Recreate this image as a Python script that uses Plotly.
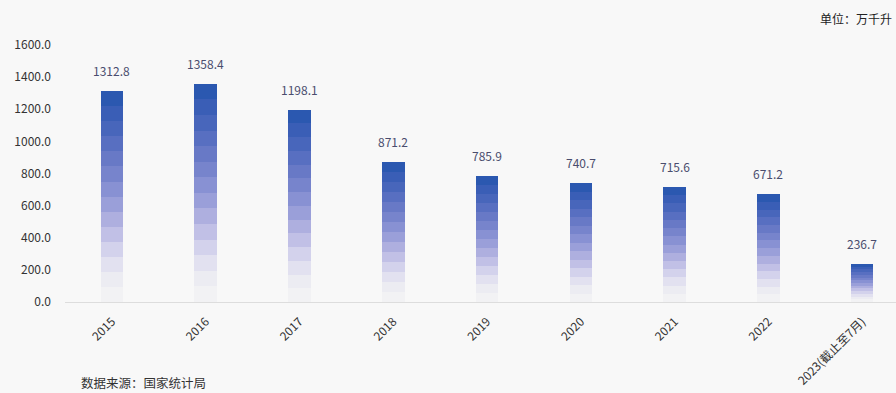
import plotly.graph_objects as go

# Annual output, unit: 万千升
categories = ["2015", "2016", "2017", "2018", "2019", "2020", "2021", "2022", "2023(截止至7月)"]
values = [1312.8, 1358.4, 1198.1, 871.2, 785.9, 740.7, 715.6, 671.2, 236.7]
y_ticks = [0, 200, 400, 600, 800, 1000, 1200, 1400, 1600]

# Banded vertical gradient, bottom band first
band_colors = [
    "#f2f2f4", "#ececf2", "#e2e1f0", "#d3d2ec", "#c1c0e6", "#aeafdf",
    "#9a9fd9", "#8891d3", "#7784cc", "#6879c6", "#586fc1", "#4866bb", "#3a5eb6", "#2b58b0",
]
n_bands = len(band_colors)

FONT = "Noto Sans CJK SC"
fig = go.Figure()

for k, col in enumerate(band_colors):
    fig.add_trace(go.Bar(
        x=categories,
        y=[v / n_bands for v in values],
        marker=dict(color=col, line=dict(width=0)),
        width=0.24,
        showlegend=False,
        hoverinfo="skip",
    ))

# Value labels above each bar (positioned by category index)
value_labels = [
    dict(
        x=i, y=v, xref="x", yref="y", text=f"{v:.1f}", showarrow=False,
        xanchor="center", yanchor="bottom", yshift=10,
        font=dict(family=FONT, size=12, color="#4a4d6e"),
    )
    for i, v in enumerate(values)
]

fig.update_layout(
    width=896,
    height=393,
    barmode="stack",
    bargap=0,
    paper_bgcolor="#f8f8f8",
    plot_bgcolor="#f8f8f8",
    margin=dict(l=65, r=0, t=45, b=91),
    font=dict(family=FONT, color="#333333"),
    xaxis=dict(
        type="category",
        range=[-0.5, 8.36],
        tickangle=-45,
        tickfont=dict(family=FONT, size=12, color="#333333"),
        showgrid=False,
        showline=True,
        linecolor="#dddddd",
        linewidth=1,
        ticks="",
        zeroline=False,
        ticklabelstandoff=7,
    ),
    yaxis=dict(
        range=[0, 1600],
        tickvals=y_ticks,
        ticktext=[f"{t:.1f}" for t in y_ticks],
        tickfont=dict(family=FONT, size=12, color="#333333"),
        showgrid=False,
        zeroline=False,
        showline=False,
        ticks="",
        ticklabelstandoff=13,
    ),
    annotations=value_labels + [
        dict(
            text="单位：万千升", xref="paper", yref="paper", x=1.0, y=1.0,
            xshift=-2, yshift=27, xanchor="right", yanchor="middle", showarrow=False,
            font=dict(family=FONT, size=12, color="#222222"),
        ),
        dict(
            text="数据来源：国家统计局", xref="paper", yref="paper", x=0.0, y=0.0,
            xshift=14, yshift=-80, xanchor="left", yanchor="middle", showarrow=False,
            font=dict(family=FONT, size=12.5, color="#333333"),
        ),
    ],
)

fig.write_html("out.html")
